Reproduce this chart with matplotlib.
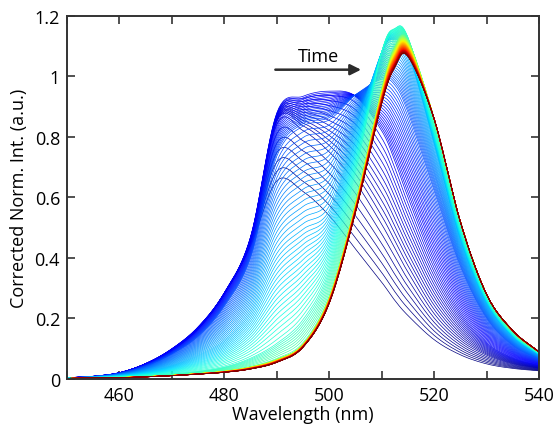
import numpy as np
import matplotlib.pyplot as plt

plt.rcParams['font.family'] = ['Open Sans', 'DejaVu Sans']

wavelength = [450, 455, 460, 465, 470, 475, 480, 485, 490, 495, 500, 505,
              510, 512.5, 515, 520, 525, 530, 535, 540]

# key spectra along the time series (position 0 = first, 1 = last)
key_times = [0.0, 0.035, 0.1, 0.2, 0.3, 0.4, 0.45, 1.0]
spec_first = [0.003, 0.008, 0.02, 0.05, 0.095, 0.165, 0.28, 0.44, 0.655, 0.62, 0.54, 0.43,
              0.32, 0.26, 0.21, 0.13, 0.08, 0.05, 0.035, 0.027]
spec_early = [0.003, 0.008, 0.02, 0.05, 0.097, 0.168, 0.283, 0.46, 0.85, 0.83, 0.76, 0.66,
              0.52, 0.44, 0.36, 0.22, 0.13, 0.08, 0.05, 0.035]
spec_broad = [0.004, 0.009, 0.021, 0.051, 0.1, 0.172, 0.285, 0.47, 0.88, 0.935, 0.952, 0.935,
              0.82, 0.72, 0.60, 0.38, 0.22, 0.12, 0.07, 0.045]
spec_mix1 = [0.003, 0.008, 0.018, 0.042, 0.082, 0.14, 0.24, 0.40, 0.74, 0.84, 0.86, 0.94,
             0.99, 0.97, 0.88, 0.62, 0.37, 0.2, 0.11, 0.065]
spec_mix2 = [0.003, 0.006, 0.012, 0.025, 0.045, 0.08, 0.13, 0.23, 0.42, 0.50, 0.56, 0.82,
             1.08, 1.12, 1.08, 0.78, 0.46, 0.25, 0.14, 0.08]
spec_max = [0.002, 0.004, 0.006, 0.01, 0.016, 0.025, 0.04, 0.07, 0.12, 0.2, 0.36, 0.68,
            1.08, 1.16, 1.13, 0.83, 0.50, 0.27, 0.15, 0.085]
spec_late = [0.002, 0.003, 0.005, 0.008, 0.012, 0.018, 0.026, 0.04, 0.065, 0.115, 0.27, 0.58,
             0.96, 1.10, 1.12, 0.86, 0.52, 0.28, 0.158, 0.089]
spec_last = [0.002, 0.003, 0.004, 0.007, 0.011, 0.016, 0.022, 0.033, 0.055, 0.105, 0.25, 0.55,
             0.91, 1.03, 1.066, 0.86, 0.52, 0.28, 0.16, 0.09]
keys = [spec_first, spec_early, spec_broad, spec_mix1, spec_mix2, spec_max, spec_late, spec_last]

n_curves = 180

xtick_pos = [450, 460, 470, 480, 490, 500, 510, 520, 530, 540]
xtick_lab = ['', '460', '', '480', '', '500', '', '520', '', '540']
ytick_pos = [0, 0.2, 0.4, 0.6, 0.8, 1.0, 1.2]
ytick_lab = ['0', '0.2', '0.4', '0.6', '0.8', '1', '1.2']


def smooth(xp, yp, n=12):
    # catmull-rom through the read points, just so lines are not jagged
    xp = np.asarray(xp, float)
    yp = np.asarray(yp, float)
    px = np.concatenate([[2*xp[0]-xp[1]], xp, [2*xp[-1]-xp[-2]]])
    py = np.concatenate([[2*yp[0]-yp[1]], yp, [2*yp[-1]-yp[-2]]])
    s = np.linspace(0, 1, n, endpoint=False)
    outx, outy = [], []
    for i in range(1, len(px)-2):
        for p, out in ((px, outx), (py, outy)):
            p0, p1, p2, p3 = p[i-1], p[i], p[i+1], p[i+2]
            out.append(0.5*(2*p1 + (-p0+p2)*s + (2*p0-5*p1+4*p2-p3)*s**2
                            + (-p0+3*p1-3*p2+p3)*s**3))
    outx.append([xp[-1]])
    outy.append([yp[-1]])
    return np.concatenate(outx), np.concatenate(outy)


fig = plt.figure(figsize=(5.55, 4.39), dpi=100)
ax = fig.add_axes([0.1207, 0.1344, 0.8505, 0.8269])

cmap = plt.get_cmap('jet')
K = np.array(keys)
for t in np.linspace(0, 1, n_curves):
    j = min(np.searchsorted(key_times, t, side='right') - 1, len(key_times) - 2)
    w = (t - key_times[j]) / (key_times[j+1] - key_times[j])
    spec = (1 - w) * K[j] + w * K[j+1]
    xs, ys = smooth(wavelength, spec)
    ax.plot(xs, ys, color=cmap(t), lw=0.5)

# time arrow
ax.annotate('', xy=(506.6, 1.0225), xytext=(489.2, 1.0225),
            arrowprops=dict(arrowstyle='-|>', color='#2b2b2b', lw=1.8, mutation_scale=16))
ax.text(497.9, 1.068, 'Time', ha='center', va='center', fontsize=13)

ax.set_xlim(450, 540)
ax.set_ylim(0, 1.2)
ax.set_xticks(xtick_pos)
ax.set_xticklabels(xtick_lab)
ax.set_yticks(ytick_pos)
ax.set_yticklabels(ytick_lab)
ax.tick_params(direction='in', top=True, right=True, length=5.5, width=1.2,
               color='#333333', labelsize=13, pad=5)
for sp in ax.spines.values():
    sp.set_linewidth(1.4)
    sp.set_color('#333333')
ax.set_xlabel('Wavelength (nm)', fontsize=13, labelpad=1)
ax.set_ylabel('Corrected Norm. Int. (a.u.)', fontsize=13, labelpad=5)

fig.savefig('out.png', dpi=100)
